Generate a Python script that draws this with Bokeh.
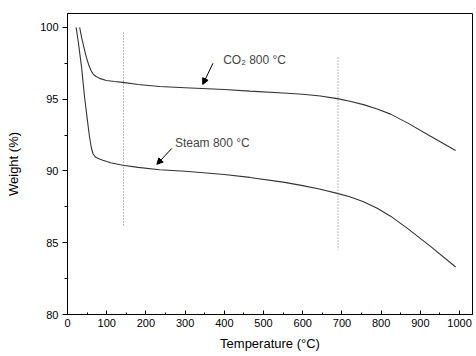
from bokeh.plotting import figure
from bokeh.models import SingleIntervalTicker, Range1d, Arrow, NormalHead, Label
from bokeh.embed import file_html
from bokeh.resources import INLINE

# TGA curves: temperature (°C) vs weight (%)
co2_T = [31, 36, 42, 48, 54, 60, 65, 72, 82, 99, 120, 141, 180, 235, 300, 400, 465, 550, 600, 645, 688, 720, 755, 790, 824, 867, 926, 990]
co2_W = [100, 99.3, 98.6, 97.93, 97.4, 97.0, 96.77, 96.6, 96.45, 96.3, 96.23, 96.17, 96.02, 95.88, 95.8, 95.68, 95.56, 95.43, 95.34, 95.22, 95.04, 94.86, 94.62, 94.32, 93.96, 93.35, 92.42, 91.43]

steam_T = [22, 28, 36, 43.5, 50, 56, 61, 65, 72, 80, 90, 110, 141, 180, 235, 300, 400, 465, 550, 600, 645, 688, 720, 755, 790, 824, 867, 926, 990]
steam_W = [100, 98.9, 97.2, 95.15, 93.7, 92.4, 91.6, 91.2, 90.95, 90.85, 90.74, 90.57, 90.4, 90.25, 90.08, 89.98, 89.75, 89.55, 89.22, 88.98, 88.72, 88.44, 88.2, 87.86, 87.4, 86.85, 86.0, 84.75, 83.31]

# dotted guide lines (temperature, from weight, to weight)
guide_T = [143, 690]
guide_top = [99.65, 97.9]
guide_bot = [86.2, 84.5]

# annotations
co2_label = "CO\u2082 800 \u00b0C"
steam_label = "Steam 800 \u00b0C"
co2_arrow = (371, 97.5, 345, 96.03)
steam_arrow = (266, 91.57, 228, 90.46)
co2_text_pos = (397, 97.7)
steam_text_pos = (274, 91.95)

FONT = "Liberation Sans"

p = figure(width=476, height=356, output_backend="svg", toolbar_location=None,
           x_range=Range1d(0, 1033), y_range=Range1d(80, 100.97),
           min_border_left=67, min_border_top=13, min_border_right=4, min_border_bottom=42)
p.background_fill_color = "white"
p.border_fill_color = "white"
p.outline_line_color = "black"
p.outline_line_width = 1
p.xgrid.visible = False
p.ygrid.visible = False

p.xaxis.ticker = SingleIntervalTicker(interval=100, num_minor_ticks=2)
p.yaxis.ticker = SingleIntervalTicker(interval=5, num_minor_ticks=2)
p.xaxis.axis_label = "Temperature (\u00b0C)"
p.yaxis.axis_label = "Weight (%)"
for ax in (p.xaxis, p.yaxis):
    ax.axis_label_text_font = FONT
    ax.axis_label_text_font_style = "normal"
    ax.axis_label_text_font_size = "13px"
    ax.major_label_text_font = FONT
    ax.major_label_text_font_size = "11px"
    ax.axis_line_color = "black"
    ax.major_tick_line_color = "black"
    ax.minor_tick_line_color = "black"
    ax.axis_label_text_color = "black"
    ax.major_label_text_color = "black"
p.xaxis.major_tick_in = 4
p.xaxis.major_tick_out = 0
p.xaxis.minor_tick_in = 2
p.xaxis.minor_tick_out = 0
p.xaxis.major_label_standoff = 4
p.xaxis.axis_label_standoff = 6
p.yaxis.major_tick_in = 0
p.yaxis.major_tick_out = 5
p.yaxis.minor_tick_in = 0
p.yaxis.minor_tick_out = 3
p.yaxis.major_label_standoff = 4
p.yaxis.axis_label_standoff = 16

p.line(co2_T, co2_W, line_color="#333333", line_width=1.1)
p.line(steam_T, steam_W, line_color="#333333", line_width=1.1)

p.segment(x0=guide_T, y0=guide_top, x1=guide_T, y1=guide_bot,
          line_color="#777777", line_width=1, line_dash="1 2")

for (x0, y0, x1, y1) in (co2_arrow, steam_arrow):
    p.add_layout(Arrow(x_start=x0, y_start=y0, x_end=x1, y_end=y1,
                       line_color="black", line_width=1,
                       end=NormalHead(size=6, fill_color="black", line_color="black")))

p.add_layout(Label(x=co2_text_pos[0], y=co2_text_pos[1], text=co2_label,
                   text_font=FONT, text_font_size="12px", text_baseline="middle"))
p.add_layout(Label(x=steam_text_pos[0], y=steam_text_pos[1], text=steam_label,
                   text_font=FONT, text_font_size="12px", text_baseline="middle"))

open("out.html", "w").write(file_html(p, INLINE))
